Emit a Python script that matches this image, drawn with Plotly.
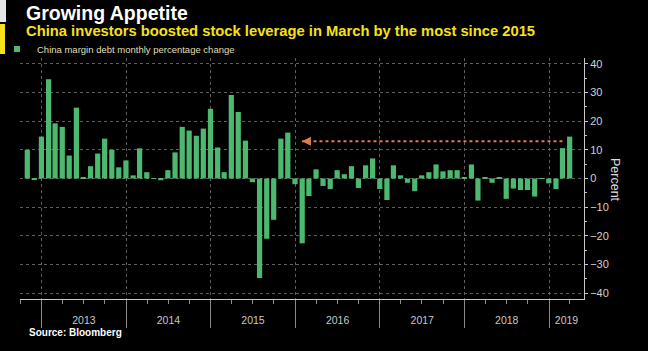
import pandas as pd
import plotly.graph_objects as go

# ---------------- data ----------------
months = pd.date_range("2012-10-31", periods=78, freq="ME")  # month-end dates, Oct 2012 .. Mar 2019
margin_debt_change = [
    10.0, -0.5, 14.6,                                                   # 2012 Oct-Dec
    34.6, 19.2, 18.0, 8.0, 24.7, 0.5, 4.3, 8.7, 13.9, 10.0, 3.9, 6.3,   # 2013
    1.1, 10.5, 2.2, 0.1, -0.6, 2.9, 9.1, 18.0, 16.7, 14.9, 17.4, 24.3,  # 2014
    10.8, 2.2, 29.1, 23.2, 13.2, -1.3, -34.7, -21.0, -14.4, 13.9, 16.0, -2.0,  # 2015
    -22.6, -6.1, 3.2, -2.6, -3.7, 2.9, 1.5, 4.3, -3.3, 4.6, 7.0, -3.7,  # 2016
    -7.5, 4.6, 1.1, -1.5, -4.4, 1.1, 2.2, 4.9, 2.5, 2.9, 2.9, 0.2,      # 2017
    4.9, -7.7, 0.3, -1.5, 0.3, -7.1, -3.5, -4.0, -4.0, -6.3, 0.1, -1.7, # 2018
    -3.7, 10.6, 14.6,                                                   # 2019 Jan-Mar
]
years = [2013, 2014, 2015, 2016, 2017, 2018, 2019]
year_labels = [str(y) for y in years]
y_ticks = [-40, -30, -20, -10, 0, 10, 20, 30, 40]
arrow_from = "2019-02-28"
arrow_to = "2016-01-30"
arrow_level = 13

series_name = "China margin debt monthly percentage change"
title = "Growing Appetite"
subtitle = "China investors boosted stock leverage in March by the most since 2015"
source = "Source: Bloomberg"

# ---------------- styling ----------------
W, H = 648, 351
ML, MR, MT, MB = 20, 64, 58, 52
PW, PH = W - ML - MR, H - MT - MB
BAR = "#4cb870"
ORANGE = "#e07b4f"
GRID = "#5e5e5e"
AXIS = "#c8c8c8"
FONT = "Liberation Sans, Arial, sans-serif"

x_range = [pd.Timestamp("2012-09-29 12:00"), pd.Timestamp("2019-06-01")]


def px_x(p):
    return (p - ML) / PW


def px_y(p):
    return 1 - (p - MT) / PH


# year label positions: middle of the visible part of each year
label_pos = []
for y in years:
    a = max(pd.Timestamp(f"{y}-01-01"), x_range[0])
    b = min(pd.Timestamp(f"{y + 1}-01-01"), x_range[1])
    label_pos.append(a + (b - a) / 2)

fig = go.Figure()
fig.add_trace(go.Bar(
    x=months, y=margin_debt_change, width=22.5 * 86400000,
    marker=dict(color=BAR, line=dict(width=0)), showlegend=False, name=series_name,
))
fig.add_trace(go.Scatter(
    x=[None], y=[None], mode="markers", name=series_name,
    marker=dict(symbol="square", size=6, color=BAR), showlegend=True,
))
fig.add_trace(go.Scatter(
    x=[arrow_from, arrow_to], y=[arrow_level, arrow_level], mode="lines",
    line=dict(color=ORANGE, width=2, dash="dot"), showlegend=False, hoverinfo="skip",
))
fig.add_trace(go.Scatter(
    x=months, y=margin_debt_change, xaxis="x2", mode="markers",
    marker=dict(opacity=0), showlegend=False, hoverinfo="skip",
))

fig.add_annotation(
    x=arrow_to, y=arrow_level, ax=pd.Timestamp(arrow_to) + pd.Timedelta(days=25), ay=arrow_level,
    axref="x", ayref="y", xref="x", yref="y", text="", showarrow=True,
    arrowhead=2, arrowsize=1.2, arrowwidth=1.5, arrowcolor=ORANGE,
)

fig.update_layout(
    width=W, height=H,
    margin=dict(l=ML, r=MR, t=MT, b=MB, pad=0, autoexpand=False),
    paper_bgcolor="#000000", plot_bgcolor="#000000",
    font=dict(family=FONT, color=AXIS),
    bargap=0.28,
    xaxis=dict(
        type="date", range=x_range,
        tick0="2013-01-01", dtick="M12", showticklabels=False,
        ticks="outside", ticklen=28, tickcolor="#8a8a8a", tickwidth=1,
        showgrid=True, gridcolor=GRID, griddash="dot", gridwidth=1,
        showline=True, linecolor=AXIS, linewidth=1, zeroline=False,
        minor=dict(tick0="2013-01-01", dtick="M3", ticks="outside", ticklen=4,
                   tickcolor="#8a8a8a", showgrid=False),
    ),
    xaxis2=dict(
        type="date", range=x_range, overlaying="x", anchor="y", side="bottom",
        tickmode="array", tickvals=label_pos, ticktext=year_labels,
        ticks="outside", ticklen=11, tickcolor="rgba(0,0,0,0)",
        tickfont=dict(size=10.5, color="#c8c8c8"),
        showgrid=False, showline=False, zeroline=False,
    ),
    yaxis=dict(
        side="right", range=[-42, 42], tickmode="array", tickvals=y_ticks,
        ticks="outside", ticklen=3, tickcolor=AXIS,
        tickfont=dict(size=11, color="#d0d0d0"),
        showgrid=True, gridcolor=GRID, griddash="dot", gridwidth=1,
        showline=True, linecolor=AXIS, linewidth=1, zeroline=False,
        minor=dict(dtick=5, ticks="outside", ticklen=2, tickcolor=AXIS, showgrid=False),
    ),
    legend=dict(
        xref="paper", yref="paper", x=px_x(-3), y=px_y(49), xanchor="left", yanchor="middle",
        bgcolor="rgba(0,0,0,0)", borderwidth=0, itemwidth=30,
        font=dict(size=9.5, color="#e2dfb8"),
    ),
    showlegend=True,
)

# title block
fig.add_annotation(text=f"<b>{title}</b>", xref="paper", yref="paper",
                   x=px_x(24), y=px_y(13), xanchor="left", yanchor="middle", showarrow=False,
                   font=dict(size=19.5, color="#ffffff"))
fig.add_annotation(text=f"<b>{subtitle}</b>", xref="paper", yref="paper",
                   x=px_x(24), y=px_y(31), xanchor="left", yanchor="middle", showarrow=False,
                   font=dict(size=14.75, color="#f7e11b"))
fig.add_annotation(text=f"<b>{source}</b>", xref="paper", yref="paper",
                   x=px_x(27), y=px_y(332), xanchor="left", yanchor="middle", showarrow=False,
                   font=dict(size=10, color="#ffffff"))
fig.add_annotation(text="Percent", xref="paper", yref="paper",
                   x=px_x(615), y=px_y(180), xanchor="center", yanchor="middle", showarrow=False,
                   textangle=90, font=dict(size=12.5, color="#dddddd"))

# left accent strip
fig.add_shape(type="rect", xref="paper", yref="paper", x0=px_x(0), x1=px_x(6),
              y0=px_y(0), y1=px_y(22), fillcolor="#e6e6e6", line=dict(width=0), layer="above")
fig.add_shape(type="rect", xref="paper", yref="paper", x0=px_x(0), x1=px_x(5),
              y0=px_y(24), y1=px_y(54), fillcolor="#f7e11b", line=dict(width=0), layer="above")

fig.write_html("out.html")
